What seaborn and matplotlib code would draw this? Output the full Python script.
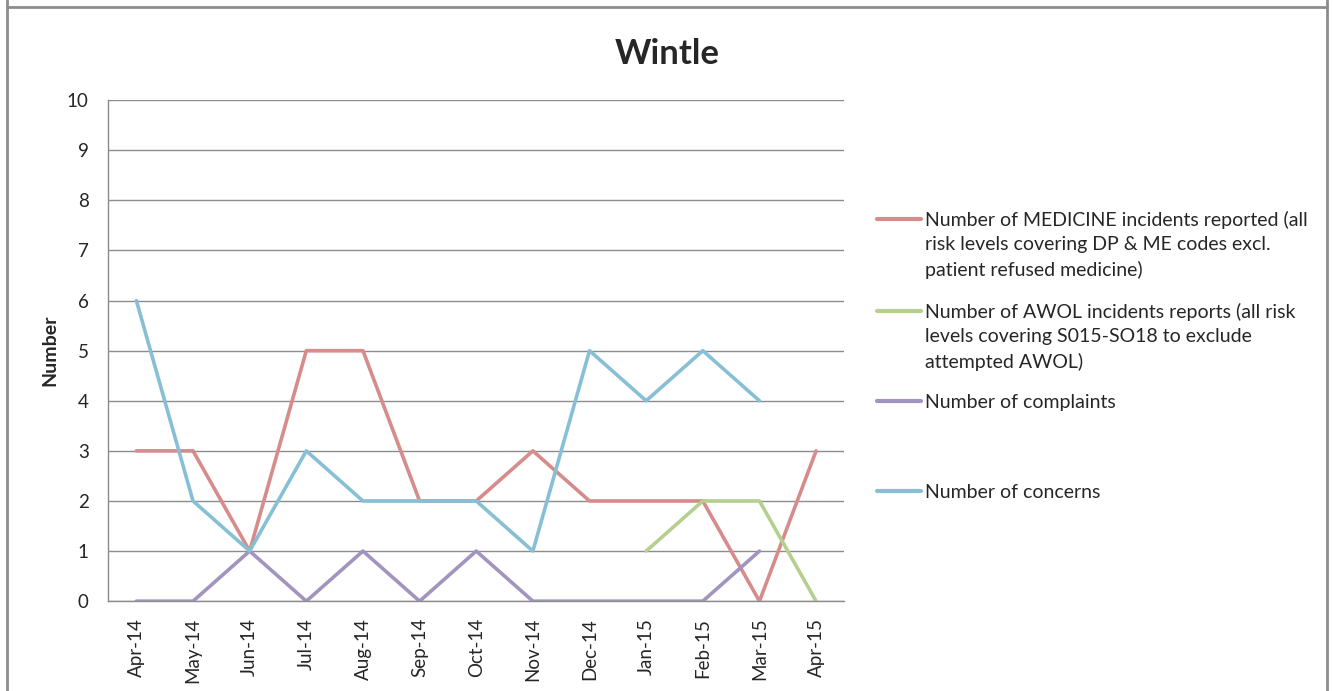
import pandas as pd
import numpy as np
import seaborn as sns
import matplotlib.pyplot as plt
from matplotlib.lines import Line2D

months = ['Apr-14', 'May-14', 'Jun-14', 'Jul-14', 'Aug-14', 'Sep-14', 'Oct-14',
          'Nov-14', 'Dec-14', 'Jan-15', 'Feb-15', 'Mar-15', 'Apr-15']

medicine = [3, 3, 1, 5, 5, 2, 2, 3, 2, 2, 2, 0, 3]
awol = [np.nan] * 9 + [1, 2, 2, 0]
complaints = [0, 0, 1, 0, 1, 0, 1, 0, 0, 0, 0, 1, np.nan]
concerns = [6, 2, 1, 3, 2, 2, 2, 1, 5, 4, 5, 4, np.nan]

series = ['Medicine', 'AWOL', 'Complaints', 'Concerns']
labels = [
    'Number of MEDICINE incidents reported (all\nrisk levels covering DP & ME codes excl.\npatient refused medicine)',
    'Number of AWOL incidents reports (all risk\nlevels covering S015-SO18 to exclude\nattempted AWOL)',
    'Number of complaints\n\n',
    'Number of concerns',
]
colors = ['#D58C8A', '#B5D08E', '#A294BE', '#87C0D4']

# long format for seaborn
df = pd.concat([
    pd.DataFrame({'month': months, 'value': vals, 'series': name})
    for name, vals in zip(series, [medicine, awol, complaints, concerns])
], ignore_index=True)
df['x'] = df['month'].map({m: i for i, m in enumerate(months)})

sns.set_style('white')
plt.rcParams['font.family'] = ['Lato', 'DejaVu Sans']

fig = plt.figure(figsize=(13.34, 6.91), dpi=100)
ax = fig.add_axes([0.081, 0.130, 0.552, 0.725])

sns.lineplot(data=df, x='x', y='value', hue='series', hue_order=series,
             palette=colors, linewidth=2.6, ax=ax, legend=False)

ax.set_xticks(range(len(months)))
ax.set_xticklabels(months)
ax.set_xlim(-0.5, len(months) - 0.5)
ax.set_ylim(0, 10)
ax.set_yticks(range(0, 11))
ax.tick_params(axis='y', labelsize=13.5, length=0, pad=14)
ax.tick_params(axis='x', labelsize=13.5, length=0, pad=12, rotation=90)
ax.grid(axis='y', color='#8C8C8C', linewidth=1.0)
ax.set_axisbelow(True)
for s in ['top', 'right']:
    ax.spines[s].set_visible(False)
for s in ['left', 'bottom']:
    ax.spines[s].set_color('#8C8C8C')
    ax.spines[s].set_linewidth(1.0)
ax.set_xlabel('')
ax.set_ylabel('Number', fontsize=14, fontweight='bold', labelpad=6)

fig.suptitle('Wintle', fontsize=25, fontweight='bold', y=0.945)

fs = 14
pitch = 18.72  # points between wrapped legend lines
handles = [Line2D([], [], color=c, linewidth=3) for c in colors]
leg = fig.legend(handles, labels, loc='upper left', bbox_to_anchor=(0.6574, 0.695),
                 frameon=False, fontsize=fs, handlelength=2.26, handletextpad=0.2,
                 labelspacing=1.23, borderpad=0, borderaxespad=0)
# put each legend line next to the first line of its label, like Excel does
for t, line in zip(leg.get_texts(), leg.get_lines()):
    t.set_linespacing(1.51)
    n = t.get_text().count('\n')
    line.set_ydata(np.asarray(line.get_ydata()) + n / 2 * pitch)

# outer frame
for xy in [([0.005, 0.005], [0, 1]), ([0.995, 0.995], [0, 1]), ([0.005, 0.995], [0.99, 0.99])]:
    fig.add_artist(Line2D(xy[0], xy[1], color='#8C8C8C', linewidth=2))

fig.savefig('out.png', dpi=100)
